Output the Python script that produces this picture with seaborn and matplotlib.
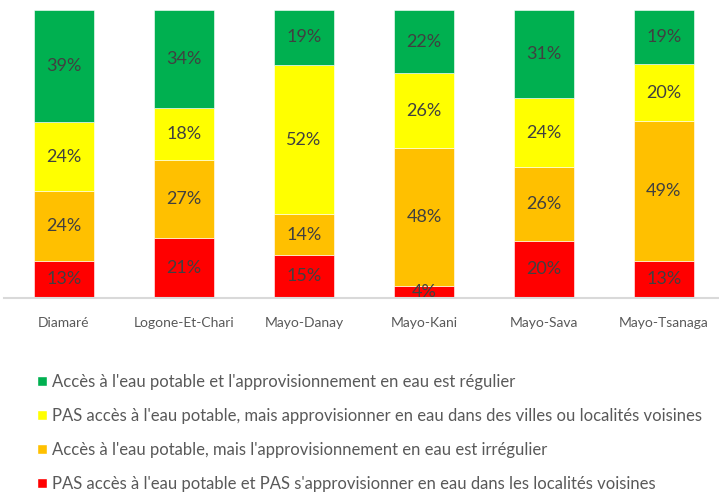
import pandas as pd
import numpy as np
import matplotlib
matplotlib.use("Agg")
import matplotlib.pyplot as plt
import seaborn as sns
from matplotlib.patches import Patch

# data (stacked bottom -> top)
regions = ["Diamaré", "Logone-Et-Chari", "Mayo-Danay", "Mayo-Kani", "Mayo-Sava", "Mayo-Tsanaga"]
pas_acces = [13, 21, 15, 4, 20, 13]
irregulier = [24, 27, 14, 48, 26, 49]
villes_voisines = [24, 18, 52, 26, 24, 20]
regulier = [39, 34, 19, 22, 31, 19]

series_labels = [
    "PAS accès à l'eau potable et PAS s'approvisionner en eau dans les localités voisines",
    "Accès à l'eau potable, mais l'approvisionnement en eau est irrégulier",
    "PAS accès à l'eau potable, mais approvisionner en eau dans des villes ou localités voisines",
    "Accès à l'eau potable et l'approvisionnement en eau est régulier",
]
colors = ["#FF0000", "#FFC000", "#FFFF00", "#00B050"]

sns.set_style("white")
plt.rcParams["font.family"] = ["Lato", "DejaVu Sans"]

df = pd.DataFrame({"region": regions, "s0": pas_acces, "s1": irregulier,
                   "s2": villes_voisines, "s3": regulier})
cols = ["s0", "s1", "s2", "s3"]
totals = df[cols].sum(axis=1)
shares = df[cols].div(totals, axis=0) * 100

fig = plt.figure(figsize=(7.19, 4.96), dpi=100)
ax = fig.add_axes([4 / 719, 1 - 298 / 496, 715 / 719, 288 / 496])

bottom = np.zeros(len(regions))
for i, c in enumerate(cols):
    sns.barplot(x=df["region"], y=shares[c], bottom=bottom, color=colors[i],
                saturation=1, width=0.5, ax=ax, edgecolor="white", linewidth=0.4)
    for j, v in enumerate(df[c]):
        ax.text(j, bottom[j] + shares[c].iloc[j] / 2, f"{v}%", ha="center", va="center",
                fontsize=13, color="#404040")
    bottom += shares[c].values

ax.set_xlim(-0.5, 5.46)
ax.set_ylim(0, 100)
ax.set_xlabel("")
ax.set_ylabel("")
ax.set_yticks([])
for s in ["top", "right", "left"]:
    ax.spines[s].set_visible(False)
ax.spines["bottom"].set_color("#D9D9D9")
ax.spines["bottom"].set_linewidth(1.5)
ax.tick_params(axis="x", length=0, pad=14, labelsize=10, labelcolor="#595959")

handles = [Patch(facecolor=colors[i], label=series_labels[i]) for i in [3, 2, 1, 0]]
fig.legend(handles=handles, loc="upper left", bbox_to_anchor=(22 / 719, 1 - 359 / 496),
           frameon=False, fontsize=12, labelcolor="#595959", handlelength=0.6,
           handleheight=0.6, handletextpad=0.3, labelspacing=1.08)

fig.savefig("out.png", dpi=100)
